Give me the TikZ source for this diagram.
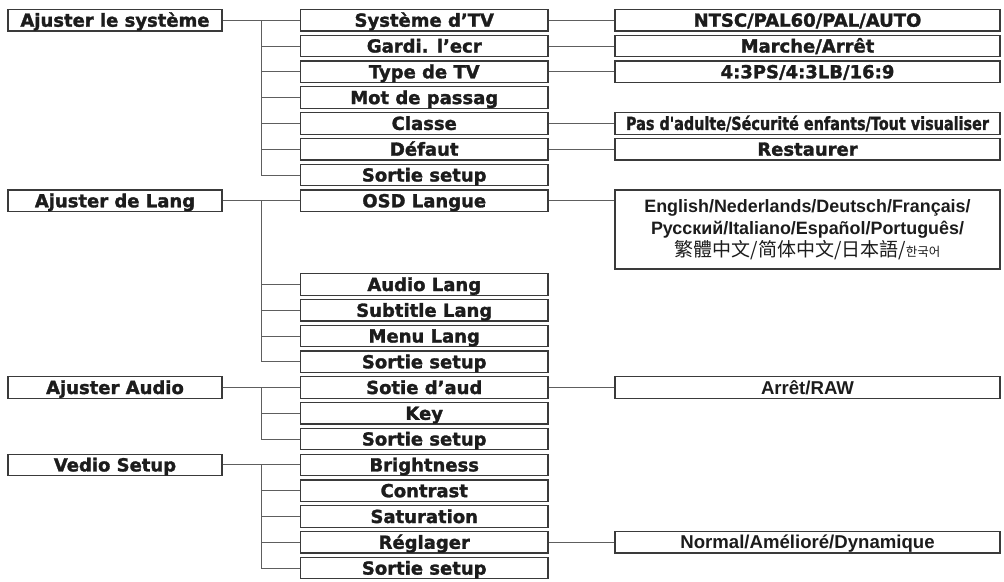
\documentclass[tikz,border=0pt]{standalone}
\usepackage{fontspec}
\usepackage{graphicx}
\setmainfont{Liberation Sans}
\newfontfamily\heavyfont{DejaVu Sans}[BoldFeatures={FakeBold=1.6}]
\newfontfamily\cjkfont{Noto Sans CJK SC}
\usepackage{tikz}
\usetikzlibrary{positioning, calc}
\definecolor{boxline}{HTML}{3A3A3A}
\definecolor{wiregray}{HTML}{5E5E5E}
\definecolor{ink}{HTML}{1C1C1C}

\begin{document}
\begin{tikzpicture}[x=1pt, y=-1pt,
        every node/.style={text=ink},
        menu/.style={rectangle, draw=boxline, line width=1.2pt, inner sep=0pt,
          minimum height=21.5pt, text height=13pt, text depth=0pt,
          font=\heavyfont\bfseries\fontsize{18}{20}\selectfont},
        topbox/.style={menu, minimum width=214pt},
        itembox/.style={menu, minimum width=247.5pt},
        valbox/.style={menu, minimum width=385pt},
        plain/.style={font=\bfseries\fontsize{18.6}{20}\selectfont},
        link/.style={draw=wiregray, line width=1pt}]
      \useasboundingbox (0,0) rectangle (1004,581);

      % top level menus
      \node[topbox] (ajs) at (115,20.2) {Ajuster le système};
      \node[topbox] (ajl) at (115,200.8) {Ajuster de Lang};
      \node[topbox] (aja) at (115,387.5) {Ajuster Audio};
      \node[topbox] (vds) at (115,464.9) {Vedio Setup};

      % system items
      \node[itembox] (stv) at (424.25,20.2) {Système d’TV};
      \node[itembox] (gar) at (424.25,46) {Gardi. l’ecr};
      \node[itembox] (typ) at (424.25,71.8) {Type de TV};
      \node[itembox] (mot) at (424.25,97.6) {Mot de passag};
      \node[itembox] (cla) at (424.25,123.4) {Classe};
      \node[itembox] (def) at (424.25,149.2) {Défaut};
      \node[itembox] (sor1) at (424.25,175) {Sortie setup};

      % language items
      \node[itembox] (osd) at (424.25,200.8) {OSD Langue};
      \node[itembox] (aul) at (424.25,284.5) {Audio Lang};
      \node[itembox] (sub) at (424.25,310.3) {Subtitle Lang};
      \node[itembox] (mnu) at (424.25,336) {Menu Lang};
      \node[itembox] (sor2) at (424.25,361.8) {Sortie setup};

      % audio items
      \node[itembox] (sot) at (424.25,387.5) {Sotie d’aud};
      \node[itembox] (key) at (424.25,413.3) {Key};
      \node[itembox] (sor3) at (424.25,439) {Sortie setup};

      % video items
      \node[itembox] (bri) at (424.25,464.9) {Brightness};
      \node[itembox] (con) at (424.25,490.7) {Contrast};
      \node[itembox] (sat) at (424.25,516.5) {Saturation};
      \node[itembox] (reg) at (424.25,542.3) {Réglager};
      \node[itembox] (sor4) at (424.25,568.1) {Sortie setup};

      % values
      \node[valbox] (ntsc) at (807.5,20.2) {NTSC/PAL60/PAL/AUTO};
      \node[valbox] (onoff) at (807.5,46) {Marche/Arrêt};
      \node[valbox] (ratio) at (807.5,71.8) {4:3PS/4:3LB/16:9};
      \node[valbox] (rate) at (807.5,123.4)
        {\scalebox{0.8}[1]{Pas d'adulte/Sécurité enfants/Tout visualiser}};
      \node[valbox] (rest) at (807.5,149.2) {Restaurer};
      \node[rectangle, draw=boxline, line width=1.2pt, minimum width=385pt,
        minimum height=79pt, inner sep=0pt, align=center,
        font=\bfseries\fontsize{17.9}{22}\selectfont] (langs) at (807.5,229.5)
        {English/Nederlands/Deutsch/Français/\\
         Русский/Italiano/Español/Português/\\
         {\cjkfont\mdseries\fontsize{19}{22}\selectfont 繁體中文/简体中文/日本語/{\fontsize{12.5}{12}\selectfont 한국어}}};
      \node[valbox, plain] (raw) at (807.5,387.5) {Arrêt/RAW};
      \node[valbox, plain] (mode) at (807.5,542.3) {Normal/Amélioré/Dynamique};

      % system branch
      \coordinate (jsys) at ($(ajs.east)!.5!(stv.west)$);
      \draw[link] (ajs.east) -- (stv.west);
      \draw[link] (jsys) |- (sor1.west);
      \draw[link] (jsys |- gar.west) -- (gar.west) (jsys |- typ.west) -- (typ.west)
        (jsys |- mot.west) -- (mot.west) (jsys |- cla.west) -- (cla.west)
        (jsys |- def.west) -- (def.west);
      \draw[link] (stv.east) -- (ntsc.west) (gar.east) -- (onoff.west)
        (typ.east) -- (ratio.west) (cla.east) -- (rate.west) (def.east) -- (rest.west);

      % language branch
      \coordinate (jlng) at ($(ajl.east)!.5!(osd.west)$);
      \draw[link] (ajl.east) -- (osd.west);
      \draw[link] (jlng) |- (sor2.west);
      \draw[link] (jlng |- aul.west) -- (aul.west) (jlng |- sub.west) -- (sub.west)
        (jlng |- mnu.west) -- (mnu.west);
      \draw[link] (osd.east) -- (osd.east -| langs.west);

      % audio branch
      \coordinate (jaud) at ($(aja.east)!.5!(sot.west)$);
      \draw[link] (aja.east) -- (sot.west);
      \draw[link] (jaud) |- (sor3.west);
      \draw[link] (jaud |- key.west) -- (key.west);
      \draw[link] (sot.east) -- (raw.west);

      % video branch
      \coordinate (jvid) at ($(vds.east)!.5!(bri.west)$);
      \draw[link] (vds.east) -- (bri.west);
      \draw[link] (jvid) |- (sor4.west);
      \draw[link] (jvid |- con.west) -- (con.west) (jvid |- sat.west) -- (sat.west)
        (jvid |- reg.west) -- (reg.west);
      \draw[link] (reg.east) -- (mode.west);
    \end{tikzpicture}
\end{document}
